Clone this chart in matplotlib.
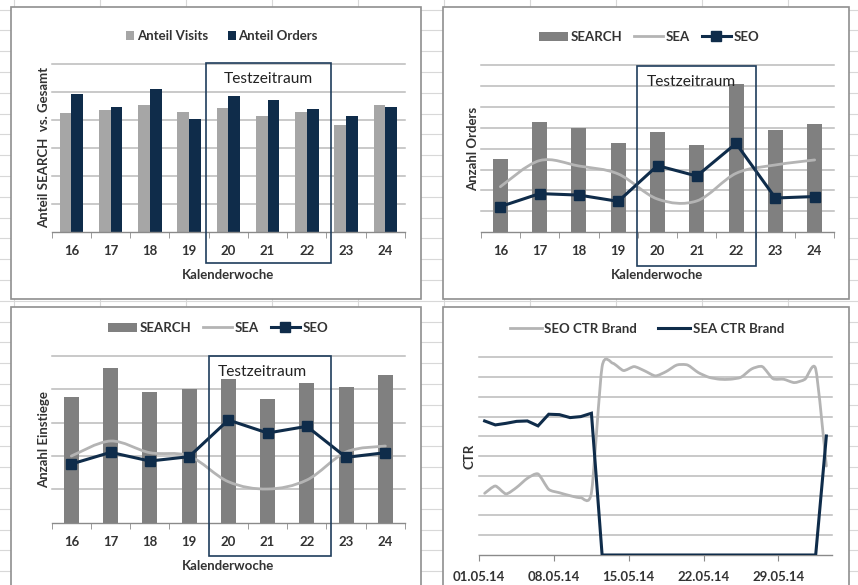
import numpy as np
import matplotlib
matplotlib.use("Agg")
import matplotlib.pyplot as plt
from matplotlib.patches import Rectangle, PathPatch
from matplotlib.path import Path
from matplotlib.lines import Line2D

# ---------------- data ----------------
weeks = ["16", "17", "18", "19", "20", "21", "22", "23", "24"]

# chart 1: share of SEARCH vs. total (%)
anteil_visits = [42.6, 43.6, 45.5, 42.7, 44.4, 41.3, 42.7, 38.2, 45.5]
anteil_orders = [49.2, 44.7, 51.0, 40.2, 48.7, 47.1, 43.8, 41.4, 44.7]

# chart 2: number of orders
orders_search = [34.9, 52.9, 49.7, 42.5, 47.8, 41.6, 70.8, 48.9, 52.0]
orders_sea = [21.8, 34.3, 31.7, 27.9, 15.9, 15.0, 28.2, 32.2, 34.6]
orders_seo = [12.3, 18.5, 17.8, 14.8, 31.9, 26.9, 42.5, 16.4, 17.1]

# chart 3: number of entries
entries_search = [376, 463, 392, 402, 430, 372, 420, 408, 442]
entries_sea = [200, 245, 210, 200, 123, 101, 128, 212, 230]
entries_seo = [176, 211, 185, 198, 308, 269, 289, 196, 210]

# chart 4: daily CTR, 01.05.14 .. 02.06.14
date_ticks = ["01.05.14", "08.05.14", "15.05.14", "22.05.14", "29.05.14"]
seo_ctr_brand = [3.12, 3.49, 3.09, 3.42, 3.88, 4.10, 3.32, 3.15, 3.00, 2.90, 3.15,
                 9.53, 9.70, 9.33, 9.53, 9.31, 9.06, 9.28, 9.61, 9.61, 9.23, 8.99,
                 8.89, 8.89, 8.99, 9.41, 9.53, 8.92, 8.89, 8.72, 8.89, 9.41, 4.50]
sea_ctr_brand = [6.78, 6.58, 6.66, 6.76, 6.78, 6.53, 7.12, 7.10, 6.95, 7.00, 7.17,
                 0, 0, 0, 0, 0, 0, 0, 0, 0, 0, 0,
                 0, 0, 0, 0, 0, 0, 0, 0, 0, 0, 6.02]

# ---------------- style ----------------
FONT = ["Lato", "DejaVu Sans"]
plt.rcParams["font.family"] = FONT
NAVY = "#0f2c4a"
LGRAY = "#a6a6a6"
MGRAY = "#808080"
SEA_C = "#b4b4b4"
GRID_C = "#bababa"
TXT = "#333333"
FS = 9.5
W, H = 858, 585

fig = plt.figure(figsize=(W / 100, H / 100), dpi=100)
fig.patch.set_facecolor("white")

# spreadsheet background grid
for xg in np.arange(14, W, 86):
    fig.add_artist(Line2D([xg / W, xg / W], [0, 1], color="#d8d8d8", lw=0.8,
                          transform=fig.transFigure, zorder=-3))
for yg in np.arange(9.5, H, 20.8):
    fig.add_artist(Line2D([0, 1], [1 - yg / H, 1 - yg / H], color="#d8d8d8", lw=0.8,
                          transform=fig.transFigure, zorder=-3))


def frame(x0, y0, x1, y1):
    fig.add_artist(Rectangle((x0 / W, 1 - y1 / H), (x1 - x0) / W, (y1 - y0) / H,
                             transform=fig.transFigure, facecolor="white",
                             edgecolor="#8f8f8f", lw=1.2, zorder=-2))


def box(x0, y0, x1, y1):
    fig.add_artist(Rectangle((x0 / W, 1 - y1 / H), (x1 - x0) / W, (y1 - y0) / H,
                             transform=fig.transFigure, facecolor="none",
                             edgecolor="#1f3d5c", lw=1.2, zorder=5))


def px_axes(x0, y0, x1, y1):
    return fig.add_axes([x0 / W, 1 - y1 / H, (x1 - x0) / W, (y1 - y0) / H])


def style(ax, ymax, step):
    ax.set_facecolor("none")
    for s in ["top", "right", "left"]:
        ax.spines[s].set_visible(False)
    ax.spines["bottom"].set_color("#8a8a8a")
    ax.spines["bottom"].set_linewidth(1.0)
    ax.set_ylim(0, ymax)
    ax.set_yticks(np.arange(step, ymax + step / 2, step))
    ax.yaxis.grid(True, color=GRID_C, lw=1.1)
    for gl in ax.get_ygridlines():
        gl.set_clip_on(False)
    ax.set_axisbelow(True)
    ax.tick_params(axis="y", length=0, labelleft=False)


def cat_axis(ax):
    n = len(weeks)
    ax.set_xlim(-0.5, n - 0.5)
    ax.set_xticks(range(n))
    ax.set_xticklabels(weeks, fontsize=FS, fontweight="bold", color=TXT)
    ax.set_xticks(np.arange(-0.5, n, 1.0), minor=True)
    ax.tick_params(axis="x", which="major", length=0, pad=9.5)
    ax.tick_params(axis="x", which="minor", length=4, color="#8a8a8a", direction="out")
    ax.set_xlabel("Kalenderwoche", fontsize=FS, fontweight="bold", color=TXT)
    ax.xaxis.set_label_coords(0.5, -0.222)


def ylab(ax, text, xpos):
    ax.set_ylabel(text, fontsize=FS, fontweight="bold", color=TXT, va="center")
    ax.yaxis.set_label_coords(xpos, 0.5)


def smooth_path(x, y, k=1 / 6):
    pts = np.column_stack([x, y]).astype(float)
    n = len(pts)
    verts = [pts[0]]
    codes = [Path.MOVETO]
    for i in range(n - 1):
        p0 = pts[i - 1] if i > 0 else pts[i]
        p1, p2 = pts[i], pts[i + 1]
        p3 = pts[i + 2] if i + 2 < n else pts[i + 1]
        verts += [p1 + (p2 - p0) * k, p2 - (p3 - p1) * k, p2]
        codes += [Path.CURVE4] * 3
    return Path(verts, codes)


def legend(ax, handles, labels, cx, cy, **kw):
    opts = dict(loc="center", bbox_to_anchor=(cx / W, 1 - cy / H),
                bbox_transform=fig.transFigure, ncol=len(labels), frameon=False,
                prop={"family": FONT, "weight": "bold", "size": FS},
                handletextpad=0.2, columnspacing=1.0, borderaxespad=0)
    opts.update(kw)
    leg = ax.legend(handles, labels, **opts)
    for t in leg.get_texts():
        t.set_color(TXT)
    return leg


x = np.arange(len(weeks))

# ---------------- chart 1 ----------------
frame(11, 7, 421, 299)
ax1 = px_axes(51.7, 64, 405, 231.7)
style(ax1, 60, 10)
b1 = ax1.bar(x - 0.15, anteil_visits, width=0.3, color=LGRAY)
b2 = ax1.bar(x + 0.15, anteil_orders, width=0.3, color=NAVY)
cat_axis(ax1)
ylab(ax1, "Anteil SEARCH  vs. Gesamt", -0.022)
legend(ax1, [b1, b2], ["Anteil Visits", "Anteil Orders"], 222, 36,
       handlelength=0.6, handleheight=0.6, columnspacing=1.5)
box(205.7, 62.7, 330.7, 263.3)
fig.text(268 / W, 1 - 79 / H, "Testzeitraum", ha="center", va="center",
         fontsize=11.2, color="#222222")

# ---------------- chart 2 ----------------
frame(443, 7, 849, 299)
ax2 = px_axes(480.7, 65, 834.3, 232.3)
style(ax2, 80, 10)
bs = ax2.bar(x, orders_search, width=0.38, color=MGRAY)
ax2.add_patch(PathPatch(smooth_path(x, orders_sea), facecolor="none",
                        edgecolor=SEA_C, lw=2.0, capstyle="round", zorder=3))
ax2.plot(x, orders_seo, color=NAVY, lw=2.2, marker="s", markersize=7.5, zorder=4)
cat_axis(ax2)
ylab(ax2, "Anzahl Orders", -0.022)
h_sea = Line2D([], [], color=SEA_C, lw=2.0)
h_seo = Line2D([], [], color=NAVY, lw=2.2, marker="s", markersize=7.5)
legend(ax2, [bs, h_sea, h_seo], ["SEARCH", "SEA", "SEO"], 649, 37,
       handlelength=2.2, handleheight=0.7, columnspacing=0.9)
box(637.3, 66, 755.7, 265.7)
fig.text(691 / W, 1 - 82 / H, "Testzeitraum", ha="center", va="center",
         fontsize=11.2, color="#222222")

# ---------------- chart 3 ----------------
frame(11, 307, 421, 600)
ax3 = px_axes(51.7, 356, 405, 522.7)
style(ax3, 500, 100)
bs3 = ax3.bar(x, entries_search, width=0.38, color=MGRAY)
ax3.add_patch(PathPatch(smooth_path(x, entries_sea), facecolor="none",
                        edgecolor=SEA_C, lw=2.0, capstyle="round", zorder=3))
ax3.plot(x, entries_seo, color=NAVY, lw=2.2, marker="s", markersize=7.5, zorder=4)
cat_axis(ax3)
ylab(ax3, "Anzahl Einstiege", -0.022)
legend(ax3, [bs3, h_sea, h_seo], ["SEARCH", "SEA", "SEO"], 218, 328,
       handlelength=2.2, handleheight=0.7, columnspacing=0.9)
box(209, 355.7, 330.7, 556)
fig.text(262.7 / W, 1 - 371.7 / H, "Testzeitraum", ha="center", va="center",
         fontsize=11.2, color="#222222")

# ---------------- chart 4 ----------------
frame(443, 307, 849, 600)
ax4 = px_axes(479.3, 357.3, 831.7, 555)
style(ax4, 10, 1)
ndays = len(seo_ctr_brand)
dx = np.arange(ndays) + 0.5
ax4.set_xlim(0, ndays)
ax4.add_patch(PathPatch(smooth_path(dx, seo_ctr_brand, k=1 / 9), facecolor="none",
                        edgecolor=SEA_C, lw=2.0, capstyle="round", zorder=3))
ax4.plot(dx, sea_ctr_brand, color=NAVY, lw=2.2, zorder=4, solid_joinstyle="miter")
ax4.set_xticks(np.arange(0, ndays, 7))
ax4.set_xticklabels(date_ticks, fontsize=FS, fontweight="bold", color=TXT)
ax4.tick_params(axis="x", length=4, color="#8a8a8a", direction="out", pad=7.5)
ylab(ax4, "CTR", -0.027)
legend(ax4, [Line2D([], [], color=SEA_C, lw=2.0), Line2D([], [], color=NAVY, lw=2.2)],
       ["SEO CTR Brand", "SEA CTR Brand"], 647, 329,
       handlelength=2.4, columnspacing=1.6)

fig.savefig("out.png", dpi=100, facecolor="white")
